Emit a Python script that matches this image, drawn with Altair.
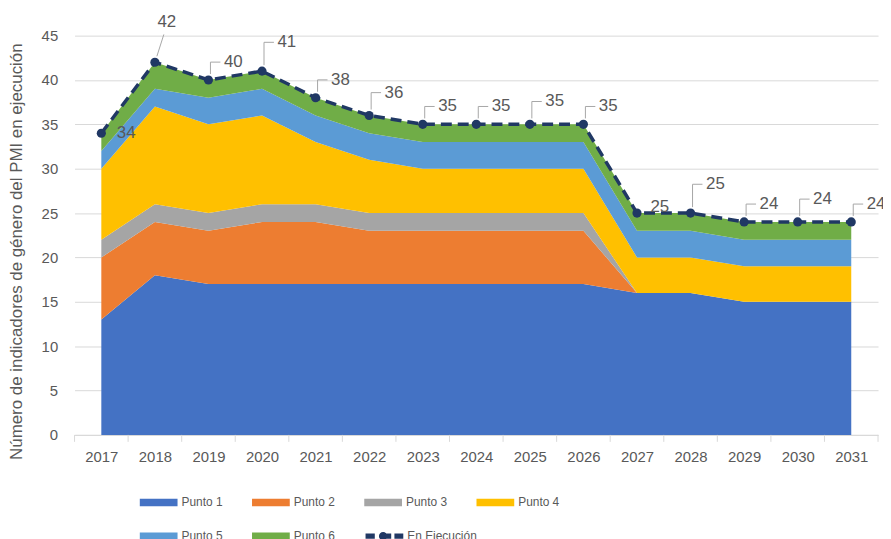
import altair as alt
import pandas as pd

# ---------------- data ----------------
years = list(range(2017, 2032))
punto1 = [13, 18, 17, 17, 17, 17, 17, 17, 17, 17, 16, 16, 15, 15, 15]
punto2 = [7, 6, 6, 7, 7, 6, 6, 6, 6, 6, 0, 0, 0, 0, 0]
punto3 = [2, 2, 2, 2, 2, 2, 2, 2, 2, 2, 0, 0, 0, 0, 0]
punto4 = [8, 11, 10, 10, 7, 6, 5, 5, 5, 5, 4, 4, 4, 4, 4]
punto5 = [2, 2, 3, 3, 3, 3, 3, 3, 3, 3, 3, 3, 3, 3, 3]
punto6 = [2, 3, 2, 2, 2, 2, 2, 2, 2, 2, 2, 2, 2, 2, 2]
en_ejecucion = [34, 42, 40, 41, 38, 36, 35, 35, 35, 35, 25, 25, 24, 24, 24]

series_names = ["Punto 1", "Punto 2", "Punto 3", "Punto 4", "Punto 5", "Punto 6"]
series_values = [punto1, punto2, punto3, punto4, punto5, punto6]
line_name = "En Ejecución"
y_title = "Número de indicadores  de género del PMI en ejecución"
y_ticks = [0, 5, 10, 15, 20, 25, 30, 35, 40, 45]

# ---------------- styles ----------------
colors = ["#4472C4", "#ED7D31", "#A5A5A5", "#FFC000", "#5B9BD5", "#70AD47"]
line_color = "#203864"
text_color = "#595959"
grid_color = "#D9D9D9"
leader_color = "#A6A6A6"
FONT = "Liberation Sans"
W, H = 809, 402

label_layout = [
    {"years": [2017], "dx": 25, "dy": 0, "leader": None},
    {"years": [2018], "dx": 12, "dy": -40, "leader": "diag"},
    {"years": [2027], "dx": 23, "dy": -6, "leader": None},
    {"years": [2019, 2021, 2023, 2024, 2026, 2029, 2031], "dx": 25, "dy": -18, "leader": "elbow"},
    {"years": [2022, 2025, 2030], "dx": 25, "dy": -23, "leader": "elbow"},
    {"years": [2020, 2028], "dx": 25, "dy": -29, "leader": "elbow"},
]

# ---------------- tables ----------------
rows = []
for i, (name, vals) in enumerate(zip(series_names, series_values)):
    for yr, v in zip(years, vals):
        rows.append({"year": yr, "serie": name, "orden": i, "valor": v})
df_area = pd.DataFrame(rows)
df_line = pd.DataFrame({"year": years, "total": en_ejecucion, "linea": line_name})
df_ticks = pd.DataFrame({"b": [yr - 0.5 for yr in years] + [years[-1] + 0.5]})

x_scale = alt.Scale(domain=[years[0] - 0.5, years[-1] + 0.5], nice=False, zero=False)
y_scale = alt.Scale(domain=[0, 45], nice=False)

x_axis = alt.Axis(values=years, format="d", title=None, ticks=False, grid=False,
                  domainColor=grid_color, domainWidth=1, labelFont=FONT,
                  labelFontSize=15, labelColor=text_color, labelPadding=15,
                  labelFlush=False, labelOverlap=False)
y_axis = alt.Axis(values=y_ticks, title=y_title, grid=True, gridColor=grid_color,
                  domain=False, ticks=False, labelFont=FONT, labelFontSize=15,
                  labelColor=text_color, labelPadding=17, titleFont=FONT,
                  titleFontSize=17, titleColor=text_color, titleFontWeight="normal",
                  titleX=-49, titleY=217, labelOverlap=False)


def X(field):
    return alt.X(field, scale=x_scale, axis=x_axis)


def Y(field, **kw):
    return alt.Y(field, scale=y_scale, axis=y_axis, **kw)


areas = alt.Chart(df_area).mark_area(interpolate="linear").encode(
    x=X("year:Q"),
    y=Y("valor:Q", stack="zero"),
    color=alt.Color("serie:N", scale=alt.Scale(domain=series_names, range=colors),
                    legend=alt.Legend(title=None, orient="none", legendX=65.7, legendY=451,
                                      direction="horizontal", columns=4,
                                      symbolType="M-1,-0.2H1V0.2H-1Z", symbolSize=1444,
                                      symbolStrokeWidth=0, labelFont=FONT,
                                      labelFontSize=12, labelColor=text_color,
                                      labelOffset=4, columnPadding=29, rowPadding=9,
                                      padding=0)),
    order=alt.Order("orden:Q", sort="ascending"),
)

line = alt.Chart(df_line).mark_line(color=line_color, strokeWidth=3.5,
                                    strokeDash=[11, 6]).encode(
    x=X("year:Q"), y=Y("total:Q"))

dash_sym = ("M-1,-0.14H-0.51V0.14H-1Z "
            "M-0.29,0A0.22,0.22 0 1,1 0.15,0A0.22,0.22 0 1,1 -0.29,0Z "
            "M0.05,-0.14H0.36V0.14H0.05Z "
            "M0.53,-0.14H1V0.14H0.53Z")

points = alt.Chart(df_line).mark_circle(size=85, opacity=1).encode(
    x=X("year:Q"), y=Y("total:Q"),
    color=alt.Color("linea:N", scale=alt.Scale(domain=[line_name], range=[line_color]),
                    legend=alt.Legend(title=None, orient="none", legendX=293, legendY=485,
                                      symbolType=dash_sym, symbolSize=1444,
                                      symbolStrokeWidth=0, symbolOpacity=1,
                                      labelFont=FONT, labelFontSize=12,
                                      labelColor=text_color, labelOffset=4, padding=0)),
)

ticks = alt.Chart(df_ticks).mark_rule(color=grid_color, strokeWidth=1).encode(
    x=X("b:Q"), y=alt.value(H), y2=alt.value(H + 7))

layers = [areas, ticks, line, points]
base = alt.Chart(df_line)
for g in label_layout:
    flt = alt.FieldOneOfPredicate(field="year", oneOf=g["years"])
    if g["leader"] == "elbow":
        layers.append(base.transform_filter(flt).mark_rule(
            color=leader_color, strokeWidth=1, xOffset=2, yOffset=-6,
            y2Offset=g["dy"]).encode(x=X("year:Q"), y=Y("total:Q"), y2="total:Q"))
        layers.append(base.transform_filter(flt).mark_rule(
            color=leader_color, strokeWidth=1, xOffset=2, x2Offset=12,
            yOffset=g["dy"]).encode(x=X("year:Q"), x2="year:Q", y=Y("total:Q")))
    elif g["leader"] == "diag":
        layers.append(base.transform_filter(flt).mark_rule(
            color=leader_color, strokeWidth=1, xOffset=2, x2Offset=9,
            yOffset=-6, y2Offset=-28).encode(
            x=X("year:Q"), x2="year:Q", y=Y("total:Q"), y2="total:Q"))
    layers.append(base.transform_filter(flt).mark_text(
        font=FONT, fontSize=17, color=text_color, dx=g["dx"], dy=g["dy"],
        align="center", baseline="middle").encode(
        x=X("year:Q"), y=Y("total:Q"), text=alt.Text("total:Q")))

chart = alt.layer(*layers).resolve_scale(color="independent").properties(
    width=W, height=H,
    padding={"left": 67, "top": 26, "right": 5, "bottom": 103},
    autosize=alt.AutoSizeParams(type="none"),
    background="white",
).configure_view(stroke=None)

chart.save("out.html", embed_options={"renderer": "svg", "actions": False})
